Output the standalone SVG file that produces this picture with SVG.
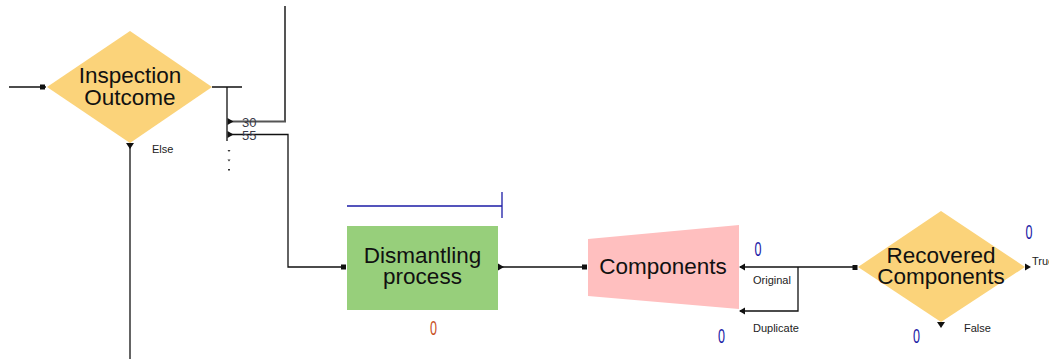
<svg xmlns="http://www.w3.org/2000/svg" width="1049" height="359" viewBox="0 0 1049 359">
  <style>
    .wire { fill: none; stroke: #111; stroke-width: 1.3; }
    .wire-g { fill: none; stroke: #555; stroke-width: 2; }
    .title { font-family: "Liberation Sans", Arial, sans-serif; font-size: 22.5px; fill: #111; text-anchor: middle; }
    .small { font-family: "Liberation Sans", Arial, sans-serif; font-size: 11px; fill: #222; }
    .pct { font-family: "Liberation Sans", Arial, sans-serif; font-size: 13px; fill: #3a3a48; }
    .count { font-family: "Liberation Sans", Arial, sans-serif; font-size: 19.5px; }
    .blue { fill: #1c1ca6; }
    .orange { fill: #c8501e; }
    .diamond { fill: #fbd37a; }
    .port { fill: #111; }
  </style>
  <defs>
    <path id="arrowR" d="M0,-3.5 L6,0 L0,3.5 Z" fill="#111"/>
  </defs>

  <!-- connectors -->
  <g id="connectors">
    <path class="wire" d="M9,87 H46"/>
    <path class="wire" d="M212,87 H242 M227,87 V141"/>
    <path class="wire-g" d="M229,121.5 H285 V6"/>
    <path class="wire" d="M229,134.5 H288 V267 H343"/>
    <path class="wire" d="M130,146 V359"/>
    <path class="wire" d="M498,267 H584"/>
    <path class="wire" d="M740,267 H854"/>
    <path class="wire" d="M740,311 H798 V267"/>
    <!-- route arrows -->
    <use href="#arrowR" x="227.5" y="121.5"/>
    <use href="#arrowR" x="227.5" y="134.5"/>
    <path d="M126,143 L134,143 L130,149 Z" fill="#111"/>
    <path d="M498,263.5 L504,267 L498,270.5 Z" fill="#111"/>
    <path d="M745,263.5 L739,267 L745,270.5 Z" fill="#111"/>
    <path d="M745,307.5 L739,311 L745,314.5 Z" fill="#111"/>
    <path d="M1025,263.5 L1031,267 L1025,270.5 Z" fill="#111"/>
    <path d="M937,322 L945,322 L941,328 Z" fill="#111"/>
    <!-- more routes -->
    <path d="M227.5,150 H230.5 L229,152 Z M227.5,159.5 H230.5 L229,161.5 Z M228,169 H230 V170.5 H228 Z" fill="#333"/>
    <text class="pct" x="242" y="127">30</text>
    <text class="pct" x="242" y="140">55</text>
    <text class="small" x="152" y="152.5">Else</text>
    <text class="small" x="753" y="283.5">Original</text>
    <text class="small" x="753" y="331.5">Duplicate</text>
    <text class="small" x="1032" y="264.5">True</text>
    <text class="small" x="964" y="332">False</text>
  </g>

  <!-- Inspection Outcome decision -->
  <g id="inspection-outcome">
    <polygon class="diamond" points="47,87 130,31 212,87 130,143"/>
    <rect class="port" x="40" y="84.5" width="5" height="5"/>
    <text class="title" x="130" y="83">Inspection</text>
    <text class="title" x="130" y="104.5">Outcome</text>
  </g>

  <!-- Dismantling process -->
  <g id="dismantling-process">
    <path d="M347,206 H502 M502,192 V218" fill="none" stroke="#1c1ca6" stroke-width="1.3"/>
    <rect x="347" y="226" width="151" height="84" fill="#97cf7b"/>
    <rect class="port" x="341" y="264.5" width="5" height="5"/>
    <text class="title" x="422.5" y="263">Dismantling</text>
    <text class="title" x="422.5" y="284">process</text>
    <text class="count orange" x="430" y="335" textLength="7" lengthAdjust="spacingAndGlyphs">0</text>
  </g>

  <!-- Components separator -->
  <g id="components">
    <polygon points="588,239 739,225 739,309 588,296" fill="#ffbfbf"/>
    <rect class="port" x="582" y="264.5" width="5" height="5"/>
    <text class="title" x="663" y="274">Components</text>
    <text class="count blue" x="754.5" y="256" textLength="7" lengthAdjust="spacingAndGlyphs">0</text>
    <text class="count blue" x="718" y="343" textLength="7" lengthAdjust="spacingAndGlyphs">0</text>
  </g>

  <!-- Recovered Components decision -->
  <g id="recovered-components">
    <polygon class="diamond" points="858,267 941,211 1025,267 941,322"/>
    <rect class="port" x="852.5" y="265" width="5" height="5"/>
    <text class="title" x="941" y="262.5">Recovered</text>
    <text class="title" x="941" y="283.5">Components</text>
    <text class="count blue" x="1025.5" y="239" textLength="7" lengthAdjust="spacingAndGlyphs">0</text>
    <text class="count blue" x="913" y="343" textLength="7" lengthAdjust="spacingAndGlyphs">0</text>
  </g>
</svg>
